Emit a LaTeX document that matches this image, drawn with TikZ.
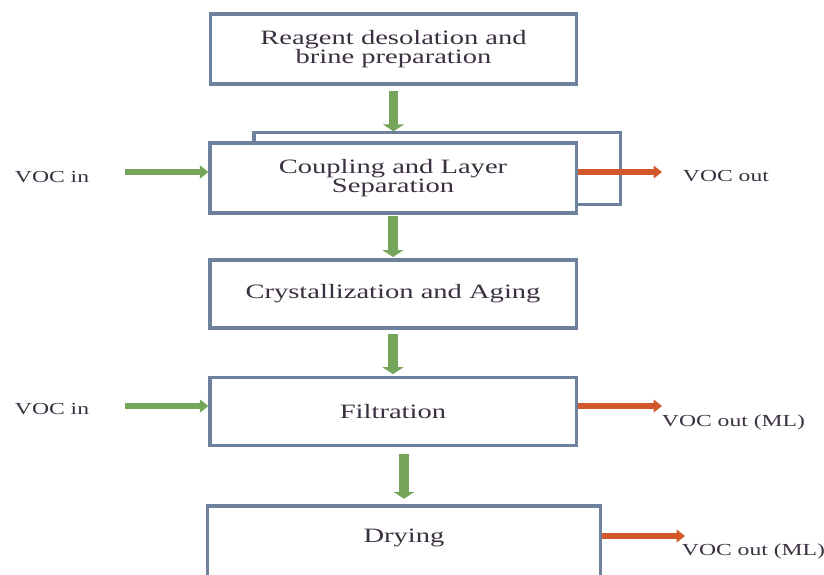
\documentclass[tikz,border=0pt]{standalone}
\usepackage{fontspec}
\setmainfont[FakeStretch=1.4]{Liberation Serif}
\usetikzlibrary{arrows.meta}

\definecolor{boxline}{HTML}{6E819C}
\definecolor{flowgreen}{HTML}{74A55A}
\definecolor{vocred}{HTML}{D2572B}
\definecolor{labeltext}{HTML}{3B3040}

\begin{document}
\begin{tikzpicture}[x=0.025cm, y=-0.025cm,
    every node/.style={font=\fontsize{12}{14}\selectfont, text=labeltext},
    stage/.style={draw=boxline, line width=2.2pt, fill=white, rectangle,
        minimum width=9.15cm, minimum height=1.75cm, align=center,
        font=\fontsize{14.5}{13.5}\selectfont},
    flow/.style={draw=flowgreen, line width=7pt, -{Triangle[width=15pt,length=5pt]}},
    vocin/.style={draw=flowgreen, line width=3.8pt, -{Triangle[width=9pt,length=6pt]}},
    vocout/.style={draw=vocred, line width=3.8pt, -{Triangle[width=9pt,length=6pt]}}]
\useasboundingbox (0,0) rectangle (824,574);
\clip (0,0) rectangle (824,574);

% Process stages
\node[stage, minimum height=1.75cm] (reagent) at (393.5,49) {Reagent desolation and\\brine preparation};
\node[stage, minimum height=1.78cm] (couplingback) at (437,168.5) {};
\node[stage] (coupling) at (393,178) {Coupling and Layer\\Separation};
\node[stage, minimum height=1.7cm] (crystal) at (393,294) {Crystallization and Aging};
\node[stage, minimum height=1.72cm] (filtration) at (393,411.5) {Filtration};
\node[stage, minimum width=9.8cm, minimum height=2cm] (drying) at (404,546) {};
\node[font=\fontsize{14.5}{13.5}\selectfont] (dryingtext) at (404,538) {Drying};

% Main flow
\draw[flow, shorten <=4pt] (reagent.south) -- (couplingback.north -| reagent.south);
\draw[flow, shorten <=1pt, shorten >=1pt] (coupling.south) -- (crystal.north);
\draw[flow, shorten <=3pt, shorten >=1pt] (crystal.south) -- (filtration.north);
\draw[flow, shorten <=5pt, shorten >=4pt] (filtration.south -| drying.north) -- (drying.north);

% VOC in
\node[anchor=west] (vocinA) at (10,177) {VOC in};
\coordinate (inA) at (125,172);
\draw[vocin] (inA) -- (inA -| coupling.west);

\node[anchor=west] (vocinB) at (10,409) {VOC in};
\coordinate (inB) at (125,406);
\draw[vocin] (inB) -- (inB -| filtration.west);

% VOC out
\node[anchor=west] (vocoutA) at (678,176) {VOC out};
\coordinate (outA) at (662,172);
\draw[vocout] (outA -| coupling.east) -- (outA);

\node[anchor=west] (vocoutB) at (657,422) {VOC out (ML)};
\coordinate (outB) at (662,406);
\draw[vocout] (outB -| filtration.east) -- (outB);

\node[anchor=west] (vocoutC) at (677,551) {VOC out (ML)};
\coordinate (outC) at (685,536);
\draw[vocout] (outC -| drying.east) -- (outC);

\end{tikzpicture}
\end{document}
